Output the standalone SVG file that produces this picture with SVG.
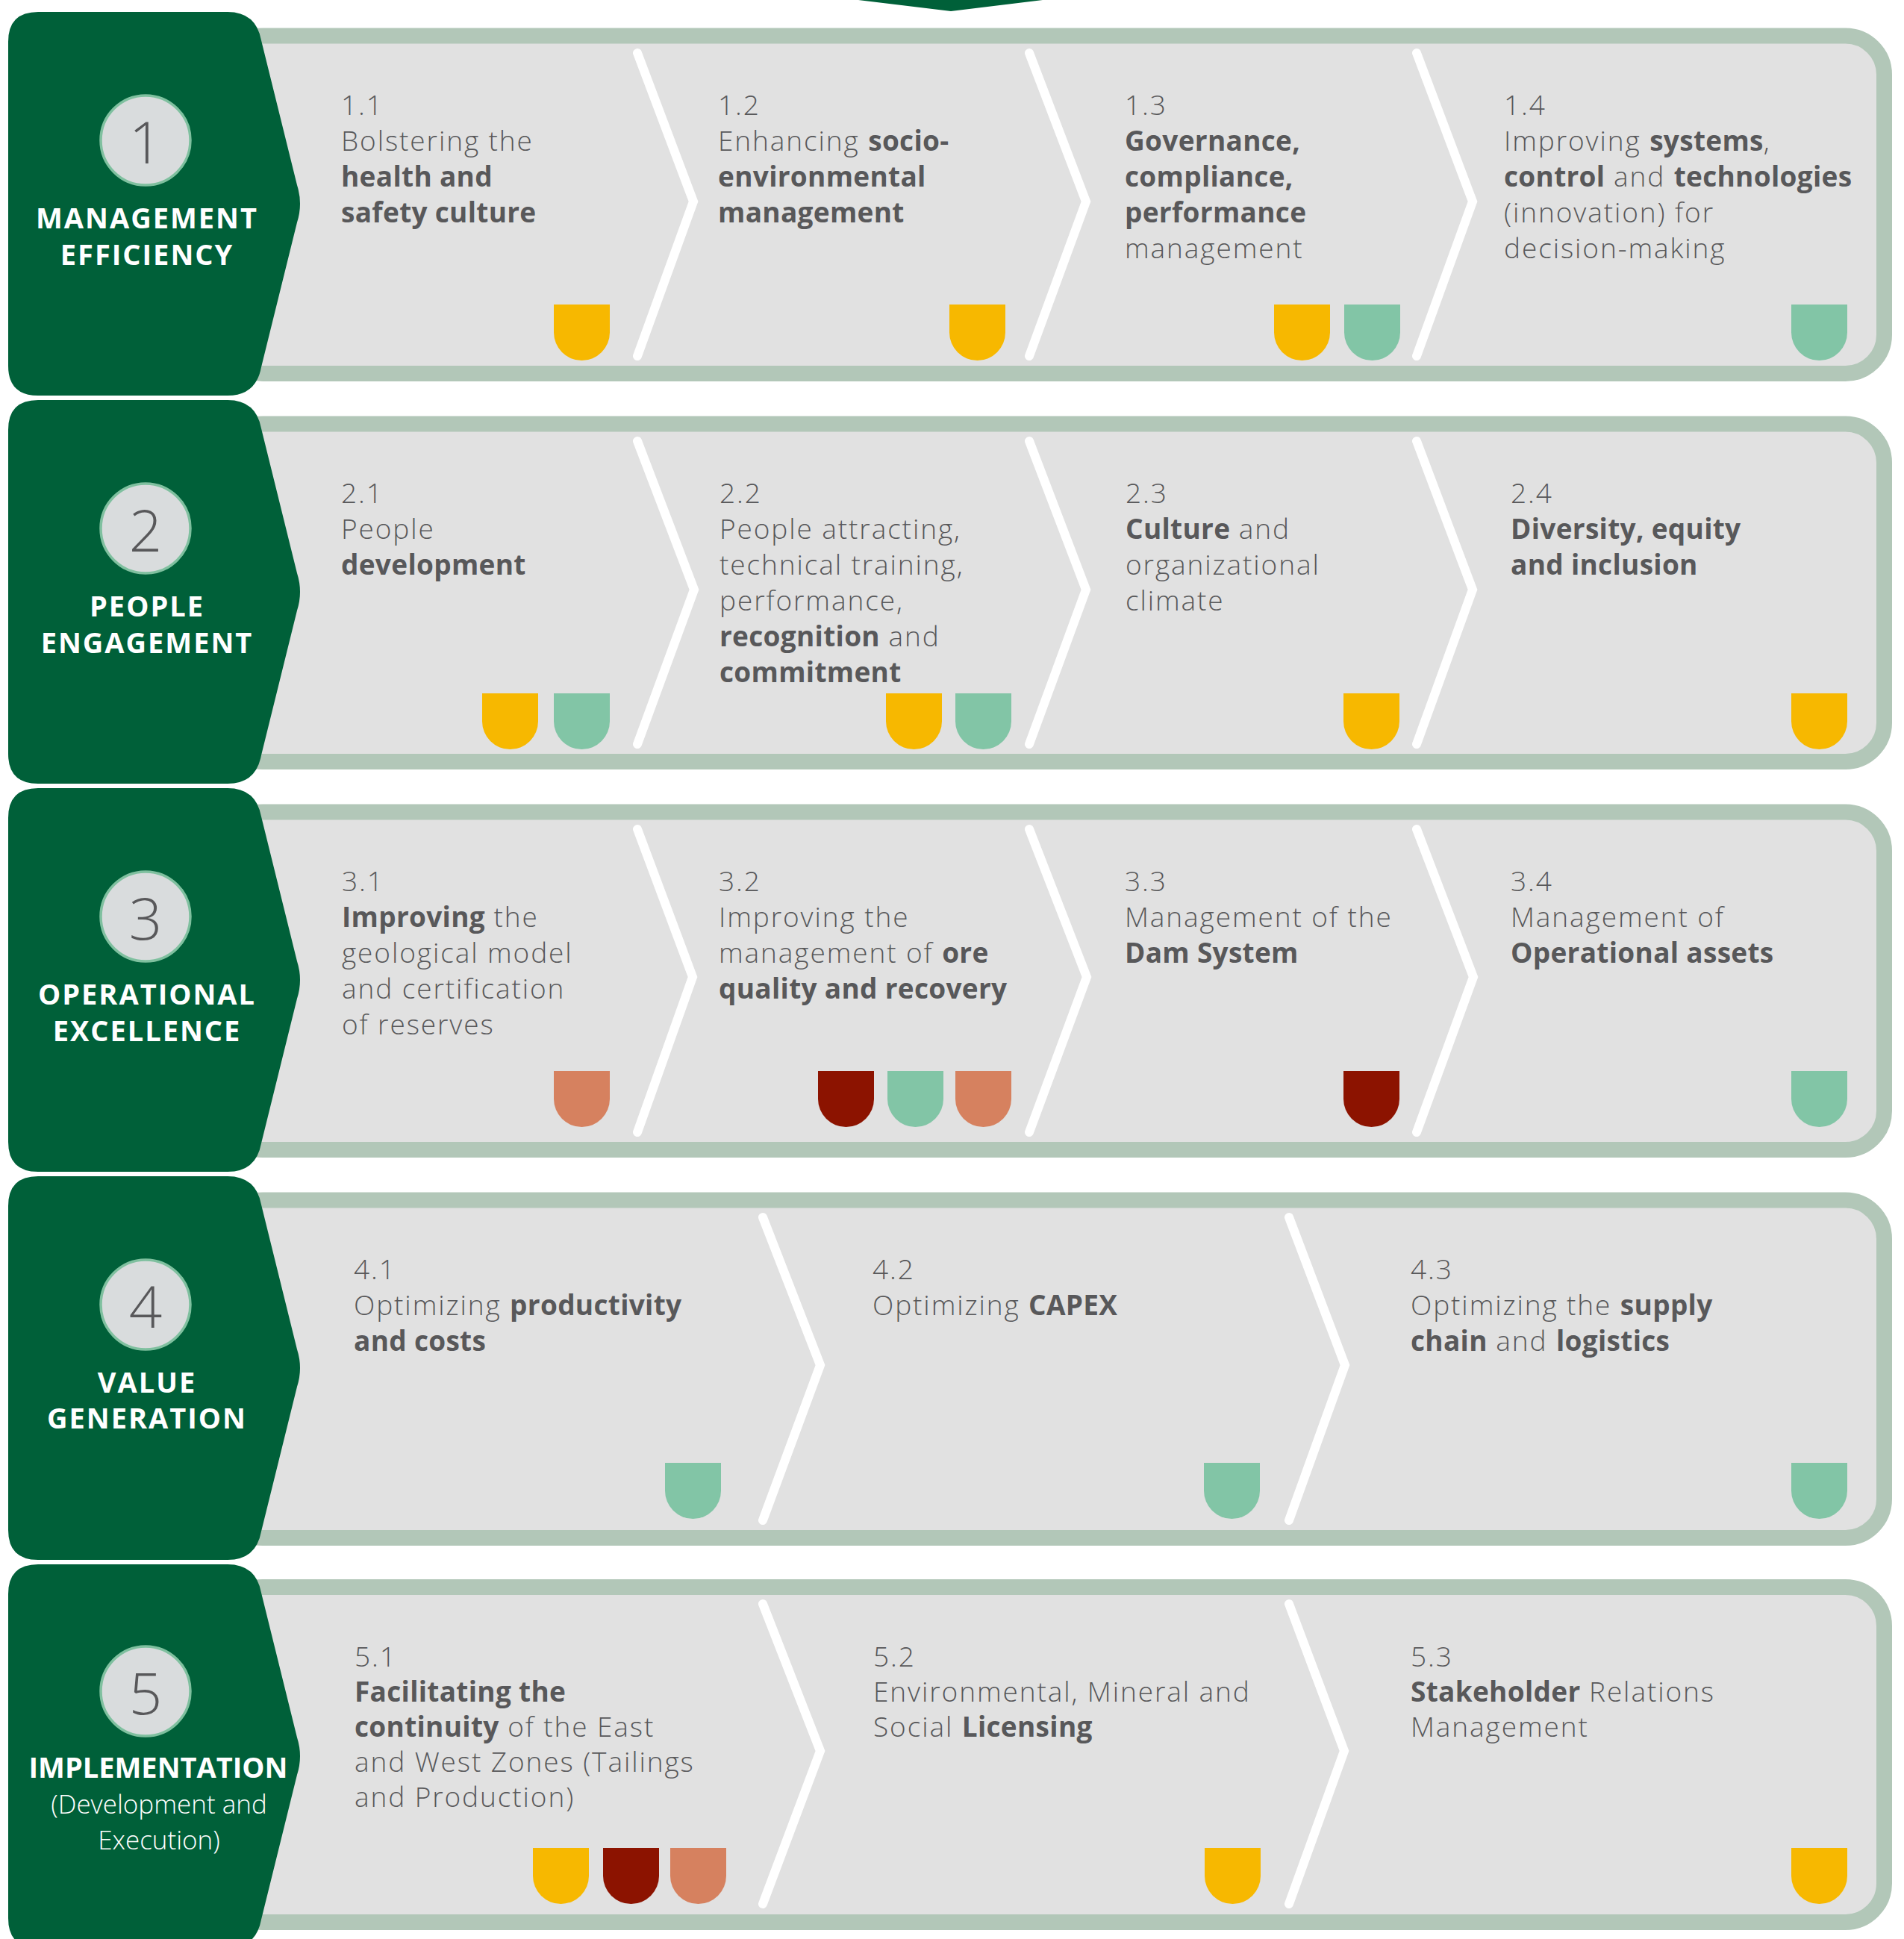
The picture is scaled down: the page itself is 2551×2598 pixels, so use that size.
<svg xmlns="http://www.w3.org/2000/svg" xmlns:xlink="http://www.w3.org/1999/xlink" width="2551" height="2598" viewBox="0 0 2551 2598">
<defs>
<style>
.band{fill:#e1e1e1;stroke:#b2c7b8;stroke-width:21}
.tab{fill:#006039}
.circ{fill:#d9dcdd;stroke:#7fc09f;stroke-width:3.5}
.num{font-family:"Open Sans","Liberation Sans",sans-serif;font-weight:300;font-size:78px;fill:#58585a;text-anchor:middle}
.ttl{font-family:"Open Sans","Liberation Sans",sans-serif;font-weight:700;font-size:38px;fill:#ffffff;text-anchor:middle;letter-spacing:2px}
.sub{font-family:"Open Sans","Liberation Sans",sans-serif;font-weight:300;font-size:35px;fill:#ffffff;text-anchor:middle}
.t{font-family:"Open Sans","Liberation Sans",sans-serif;font-weight:300;font-size:37px;fill:#58585a;letter-spacing:1.9px}
.b{font-weight:700;letter-spacing:0.3px}
.sep{fill:none;stroke:#ffffff;stroke-width:12;stroke-linecap:round;stroke-linejoin:miter}
.Y{fill:#f7b800}.T{fill:#82c5a6}.R{fill:#8c1300}.S{fill:#d6815f}
</style>
<path id="badge" d="M0 0H75V37.5A37.5 37.5 0 0 1 0 37.5Z"/>
<path id="tabshape" d="M51 0H305Q343 0 350 38L398 232Q406 257 398 282L350 476Q343 514 305 514H51Q11 514 11 474V40Q11 0 51 0Z"/>
</defs>
<rect width="2551" height="2598" fill="#ffffff"/>
<polygon id="top-arrow" points="1150,0 1397,0 1274,15" fill="#006039"/>

<g id="bands">
<rect class="band" x="300" y="48" width="2224.5" height="452.5" rx="52"/>
<rect class="band" x="300" y="568" width="2224.5" height="452.5" rx="52"/>
<rect class="band" x="300" y="1088" width="2224.5" height="452.5" rx="52"/>
<rect class="band" x="300" y="1608" width="2224.5" height="452.5" rx="52"/>
<rect class="band" x="300" y="2126.5" width="2224.5" height="449" rx="52"/>
</g>

<g id="connectors">
<polyline class="sep" points="854,71 929,270 854,477"/>
<polyline class="sep" points="1379,71 1455,270 1379,477"/>
<polyline class="sep" points="1898,71 1973,270 1898,477"/>
<polyline class="sep" points="854,591 930,790 854,997"/>
<polyline class="sep" points="1379,591 1455,790 1379,997"/>
<polyline class="sep" points="1898,591 1973,790 1898,997"/>
<polyline class="sep" points="854,1111 928,1309 854,1517"/>
<polyline class="sep" points="1379,1111 1456,1309 1379,1517"/>
<polyline class="sep" points="1898,1111 1974,1309 1898,1517"/>
<polyline class="sep" points="1022,1631 1099,1829 1022,2037"/>
<polyline class="sep" points="1727,1631 1802,1829 1727,2037"/>
<polyline class="sep" points="1022,2149 1099,2346 1022,2551"/>
<polyline class="sep" points="1727,2149 1801,2346 1727,2551"/>
</g>

<g id="pillar-1">
<use href="#tabshape" class="tab" y="16"/>
<circle class="circ" cx="195" cy="188" r="60"/>
<text class="num" x="195" y="219">1</text>
<text class="ttl" x="197" y="306">MANAGEMENT</text>
<text class="ttl" x="197" y="355">EFFICIENCY</text>
</g>
<g id="pillar-2">
<use href="#tabshape" class="tab" y="536"/>
<circle class="circ" cx="195" cy="708" r="60"/>
<text class="num" x="195" y="739">2</text>
<text class="ttl" x="197" y="826">PEOPLE</text>
<text class="ttl" x="197" y="875">ENGAGEMENT</text>
</g>
<g id="pillar-3">
<use href="#tabshape" class="tab" y="1056"/>
<circle class="circ" cx="195" cy="1228" r="60"/>
<text class="num" x="195" y="1259">3</text>
<text class="ttl" x="197" y="1346">OPERATIONAL</text>
<text class="ttl" x="197" y="1395">EXCELLENCE</text>
</g>
<g id="pillar-4">
<use href="#tabshape" class="tab" y="1576"/>
<circle class="circ" cx="195" cy="1748" r="60"/>
<text class="num" x="195" y="1779">4</text>
<text class="ttl" x="197" y="1866">VALUE</text>
<text class="ttl" x="197" y="1914">GENERATION</text>
</g>
<g id="pillar-5">
<use href="#tabshape" class="tab" y="2096"/>
<circle class="circ" cx="195" cy="2266" r="60"/>
<text class="num" x="195" y="2297">5</text>
<text class="ttl" x="212" y="2382" style="letter-spacing:0px">IMPLEMENTATION</text>
<text class="sub" x="213" y="2430">(Development and</text>
<text class="sub" x="213" y="2478">Execution)</text>
</g>

<g id="item-1-1">
<text class="t"><tspan x="457" y="154">1.1</tspan><tspan x="457" y="202">Bolstering the</tspan><tspan x="457" y="250" class="b">health and</tspan><tspan x="457" y="298" class="b">safety culture</tspan></text>
<use href="#badge" class="Y" x="742" y="408"/>
</g>
<g id="item-1-2">
<text class="t"><tspan x="962" y="154">1.2</tspan><tspan x="962" y="202">Enhancing <tspan class="b">socio-</tspan></tspan><tspan x="962" y="250" class="b">environmental</tspan><tspan x="962" y="298" class="b">management</tspan></text>
<use href="#badge" class="Y" x="1272" y="408"/>
</g>
<g id="item-1-3">
<text class="t"><tspan x="1507" y="154">1.3</tspan><tspan x="1507" y="202" class="b">Governance,</tspan><tspan x="1507" y="250" class="b">compliance,</tspan><tspan x="1507" y="298" class="b">performance</tspan><tspan x="1507" y="346">management</tspan></text>
<use href="#badge" class="Y" x="1707" y="408"/>
<use href="#badge" class="T" x="1801" y="408"/>
</g>
<g id="item-1-4">
<text class="t"><tspan x="2015" y="154">1.4</tspan><tspan x="2015" y="202">Improving <tspan class="b">systems</tspan>,</tspan><tspan x="2015" y="250"><tspan class="b">control</tspan> and <tspan class="b">technologies</tspan></tspan><tspan x="2015" y="298">(innovation) for</tspan><tspan x="2015" y="346">decision-making</tspan></text>
<use href="#badge" class="T" x="2400" y="408"/>
</g>

<g id="item-2-1">
<text class="t"><tspan x="457" y="674">2.1</tspan><tspan x="457" y="722">People</tspan><tspan x="457" y="770" class="b">development</tspan></text>
<use href="#badge" class="Y" x="646" y="929"/>
<use href="#badge" class="T" x="742" y="929"/>
</g>
<g id="item-2-2">
<text class="t"><tspan x="964" y="674">2.2</tspan><tspan x="964" y="722">People attracting,</tspan><tspan x="964" y="770">technical training,</tspan><tspan x="964" y="818">performance,</tspan><tspan x="964" y="866"><tspan class="b">recognition</tspan> and</tspan><tspan x="964" y="914" class="b">commitment</tspan></text>
<use href="#badge" class="Y" x="1187" y="929"/>
<use href="#badge" class="T" x="1280" y="929"/>
</g>
<g id="item-2-3">
<text class="t"><tspan x="1508" y="674">2.3</tspan><tspan x="1508" y="722"><tspan class="b">Culture</tspan> and</tspan><tspan x="1508" y="770">organizational</tspan><tspan x="1508" y="818">climate</tspan></text>
<use href="#badge" class="Y" x="1800" y="929"/>
</g>
<g id="item-2-4">
<text class="t"><tspan x="2024" y="674">2.4</tspan><tspan x="2024" y="722" class="b">Diversity, equity</tspan><tspan x="2024" y="770" class="b">and inclusion</tspan></text>
<use href="#badge" class="Y" x="2400" y="929"/>
</g>

<g id="item-3-1">
<text class="t"><tspan x="458" y="1194">3.1</tspan><tspan x="458" y="1242"><tspan class="b">Improving</tspan> the</tspan><tspan x="458" y="1290">geological model</tspan><tspan x="458" y="1338">and certification</tspan><tspan x="458" y="1386">of reserves</tspan></text>
<use href="#badge" class="S" x="742" y="1435"/>
</g>
<g id="item-3-2">
<text class="t"><tspan x="963" y="1194">3.2</tspan><tspan x="963" y="1242">Improving the</tspan><tspan x="963" y="1290">management of <tspan class="b">ore</tspan></tspan><tspan x="963" y="1338" class="b">quality and recovery</tspan></text>
<use href="#badge" class="R" x="1096" y="1435"/>
<use href="#badge" class="T" x="1189" y="1435"/>
<use href="#badge" class="S" x="1280" y="1435"/>
</g>
<g id="item-3-3">
<text class="t"><tspan x="1507" y="1194">3.3</tspan><tspan x="1507" y="1242">Management of the</tspan><tspan x="1507" y="1290" class="b">Dam System</tspan></text>
<use href="#badge" class="R" x="1800" y="1435"/>
</g>
<g id="item-3-4">
<text class="t"><tspan x="2024" y="1194">3.4</tspan><tspan x="2024" y="1242">Management of</tspan><tspan x="2024" y="1290" class="b">Operational assets</tspan></text>
<use href="#badge" class="T" x="2400" y="1435"/>
</g>

<g id="item-4-1">
<text class="t"><tspan x="474" y="1714">4.1</tspan><tspan x="474" y="1762">Optimizing <tspan class="b">productivity</tspan></tspan><tspan x="474" y="1810" class="b">and costs</tspan></text>
<use href="#badge" class="T" x="891" y="1960"/>
</g>
<g id="item-4-2">
<text class="t"><tspan x="1169" y="1714">4.2</tspan><tspan x="1169" y="1762">Optimizing <tspan class="b">CAPEX</tspan></tspan></text>
<use href="#badge" class="T" x="1613" y="1960"/>
</g>
<g id="item-4-3">
<text class="t"><tspan x="1890" y="1714">4.3</tspan><tspan x="1890" y="1762">Optimizing the <tspan class="b">supply</tspan></tspan><tspan x="1890" y="1810"><tspan class="b">chain</tspan> and <tspan class="b">logistics</tspan></tspan></text>
<use href="#badge" class="T" x="2400" y="1960"/>
</g>

<g id="item-5-1">
<text class="t"><tspan x="475" y="2233">5.1</tspan><tspan x="475" y="2280" class="b">Facilitating the</tspan><tspan x="475" y="2327"><tspan class="b">continuity</tspan> of the East</tspan><tspan x="475" y="2374">and West Zones (Tailings</tspan><tspan x="475" y="2421">and Production)</tspan></text>
<use href="#badge" class="Y" x="714" y="2476"/>
<use href="#badge" class="R" x="808" y="2476"/>
<use href="#badge" class="S" x="898" y="2476"/>
</g>
<g id="item-5-2">
<text class="t"><tspan x="1170" y="2233">5.2</tspan><tspan x="1170" y="2280">Environmental, Mineral and</tspan><tspan x="1170" y="2327">Social <tspan class="b">Licensing</tspan></tspan></text>
<use href="#badge" class="Y" x="1614" y="2476"/>
</g>
<g id="item-5-3">
<text class="t"><tspan x="1890" y="2233">5.3</tspan><tspan x="1890" y="2280"><tspan class="b">Stakeholder</tspan> Relations</tspan><tspan x="1890" y="2327">Management</tspan></text>
<use href="#badge" class="Y" x="2400" y="2476"/>
</g>
</svg>
